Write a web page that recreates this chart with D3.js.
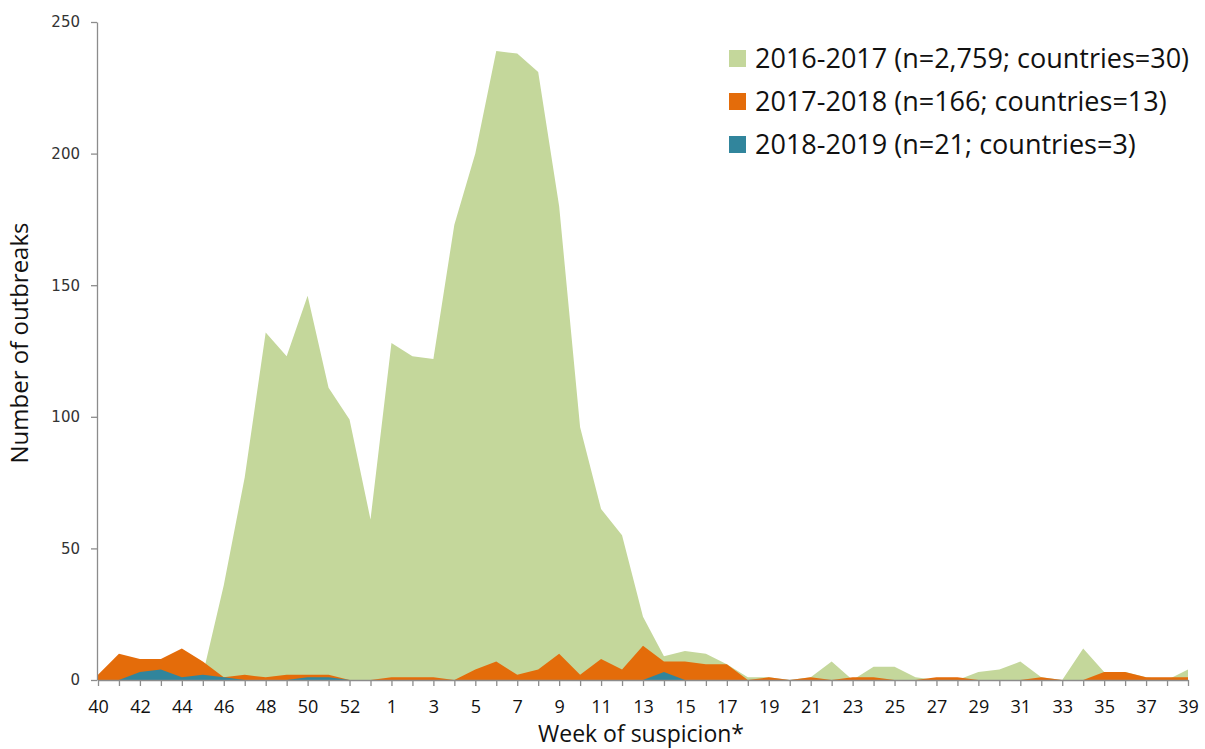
<!DOCTYPE html>
<html>
<head>
<meta charset="utf-8">
<script src="https://cdn.jsdelivr.net/npm/d3@7"></script>
<style>
  body { margin: 0; background: #fff; }
  svg { display: block; }
</style>
</head>
<body>
<svg id="chart" width="1205" height="749"></svg>
<script>
// weeks of suspicion, season runs from week 40 to week 39 (incl. week 53)
const weeks = [40, 41, 42, 43, 44, 45, 46, 47, 48, 49, 50, 51, 52, 53,
  1, 2, 3, 4, 5, 6, 7, 8, 9, 10, 11, 12, 13, 14, 15, 16, 17, 18, 19, 20,
  21, 22, 23, 24, 25, 26, 27, 28, 29, 30, 31, 32, 33, 34, 35, 36, 37, 38, 39];

const season1617 = [0, 0, 0, 0, 0, 2, 36, 77, 132, 123, 146, 111, 99, 61,
  128, 123, 122, 173, 200, 239, 238, 231, 180, 96, 65, 55, 24, 9, 11, 10, 6, 1, 1, 0,
  1, 7, 0, 5, 5, 1, 0, 0, 3, 4, 7, 1, 0, 12, 3, 3, 1, 0, 4];

const season1718 = [2, 10, 8, 8, 12, 7, 1, 2, 1, 2, 2, 2, 0, 0,
  1, 1, 1, 0, 4, 7, 2, 4, 10, 2, 8, 4, 13, 7, 7, 6, 6, 0, 1, 0,
  1, 0, 1, 1, 0, 0, 1, 1, 0, 0, 0, 1, 0, 0, 3, 3, 1, 1, 1];

const season1819 = [0, 0, 3, 4, 1, 2, 1, 0, 0, 0, 1, 1, 0, 0,
  0, 0, 0, 0, 0, 0, 0, 0, 0, 0, 0, 0, 0, 3, 0, 0, 0, 0, 0, 0,
  0, 0, 0, 0, 0, 0, 0, 0, 0, 0, 0, 0, 0, 0, 0, 0, 0, 0, 0];

const seriesNames = ["2016-2017 (n=2,759; countries=30)",
  "2017-2018 (n=166; countries=13)",
  "2018-2019 (n=21; countries=3)"];
const seriesColors = ["#C4D79B", "#E46C0A", "#31859C"];
const yTicks = [0, 50, 100, 150, 200, 250];

const svg = d3.select("#chart");
const axisColor = "#8c8c8c";

const x = d3.scalePoint()
  .domain(weeks.map(String))
  .range([98, 1188])
  .padding(0);

const y = d3.scaleLinear()
  .domain([0, 250])
  .range([680, 22]);

// areas overlap, drawn back to front
const allSeries = [season1617, season1718, season1819];
allSeries.forEach((vals, s) => {
  const area = d3.area()
    .x((d, i) => x(String(weeks[i])))
    .y0(y(0))
    .y1(d => y(d));
  svg.append("path")
    .datum(vals)
    .attr("fill", seriesColors[s])
    .attr("d", area);
});

// y axis
const yAxis = svg.append("g")
  .attr("transform", "translate(97,0)")
  .call(d3.axisLeft(y).tickValues(yTicks).tickSize(6).tickPadding(11).tickSizeOuter(0));
yAxis.select(".domain").attr("stroke", axisColor).attr("stroke-width", 1.3);
yAxis.selectAll(".tick line").attr("stroke", axisColor).attr("stroke-width", 1.3);
yAxis.selectAll(".tick text")
  .attr("fill", "#333")
  .style("font-family", "'DejaVu Sans', Verdana, sans-serif")
  .style("font-size", "15px");

// x axis
const xAxis = svg.append("g")
  .attr("transform", "translate(0,680)")
  .call(d3.axisBottom(x)
    .tickSize(6)
    .tickPadding(14)
    .tickSizeOuter(0)
    .tickFormat((d, i) => i % 2 === 0 ? d : ""));
xAxis.select(".domain").attr("stroke", axisColor).attr("stroke-width", 1.3);
xAxis.selectAll(".tick line").attr("stroke", axisColor).attr("stroke-width", 1.3);
xAxis.selectAll(".tick text")
  .attr("fill", "#111")
  .style("font-family", "'Open Sans', sans-serif")
  .style("font-size", "18px");

// axis titles
svg.append("text")
  .attr("x", 641)
  .attr("y", 742)
  .attr("text-anchor", "middle")
  .attr("fill", "#111")
  .style("font-family", "'Open Sans', sans-serif")
  .style("font-size", "23px")
  .text("Week of suspicion*");

svg.append("text")
  .attr("transform", "translate(28,343) rotate(-90)")
  .attr("text-anchor", "middle")
  .attr("fill", "#111")
  .style("font-family", "'Open Sans', sans-serif")
  .style("font-size", "24px")
  .text("Number of outbreaks");

// legend
const legend = svg.append("g").attr("transform", "translate(729,50)");
seriesNames.forEach((name, i) => {
  const row = legend.append("g").attr("transform", `translate(0,${i * 43})`);
  row.append("rect")
    .attr("width", 17)
    .attr("height", 17)
    .attr("fill", seriesColors[i]);
  row.append("text")
    .attr("x", 26)
    .attr("y", 9)
    .attr("dy", "0.35em")
    .attr("fill", "#111")
    .style("font-family", "'Open Sans', sans-serif")
    .style("font-size", "27px")
    .text(name);
});
</script>
</body>
</html>
